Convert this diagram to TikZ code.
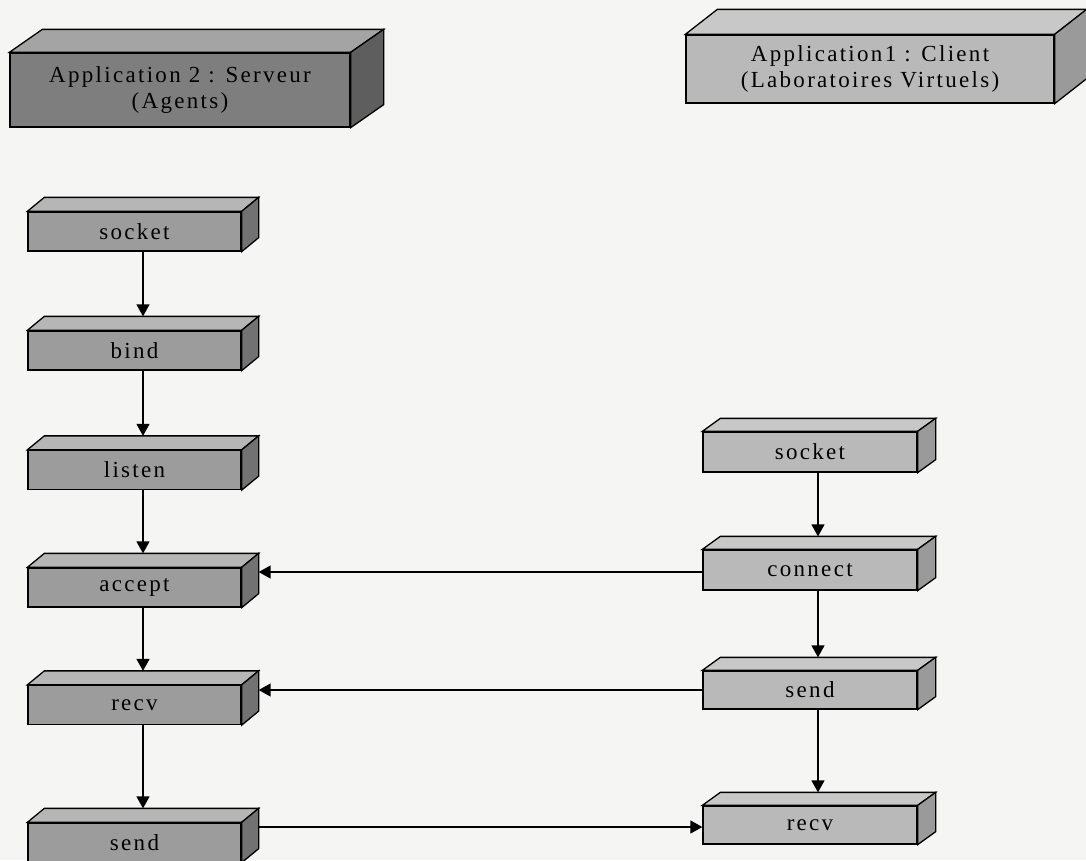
\documentclass[tikz,border=0pt]{standalone}
\usepackage{fontspec}
\newfontfamily\boxfont[LetterSpace=10]{Liberation Serif}
\usetikzlibrary{calc,arrows.meta}
\definecolor{paper}{HTML}{F5F5F3}
\definecolor{lfront}{HTML}{9C9C9C}
\definecolor{ltop}{HTML}{B6B6B6}
\definecolor{lside}{HTML}{727272}
\definecolor{tfront}{HTML}{7E7E7E}
\definecolor{ttop}{HTML}{A4A4A4}
\definecolor{tside}{HTML}{5E5E5E}
\definecolor{rfront}{HTML}{B9B9B9}
\definecolor{rtop}{HTML}{C8C8C8}
\definecolor{rside}{HTML}{9A9A9A}
\tikzset{
  edge/.style={draw=black, line width=1.3pt, line join=miter},
  lbox/.style={edge, fill=lfront},
  tbox/.style={edge, fill=tfront},
  rbox/.style={edge, fill=rfront},
  lboxtop/.style={edge, fill=ltop}, lboxside/.style={edge, fill=lside},
  tboxtop/.style={edge, fill=ttop}, tboxside/.style={edge, fill=tside},
  rboxtop/.style={edge, fill=rtop}, rboxside/.style={edge, fill=rside},
  label/.style={font=\boxfont\fontsize{23}{26}\selectfont, inner sep=0pt, align=center, text=black},
  arr/.style={line width=1.4pt, -{Triangle[width=13pt,length=12pt]}},
}
% #1 name, #2 cx, #3 cy, #4 width, #5 height, #6 dx, #7 dy, #8 style, #9 text
\newcommand{\tdbox}[9]{%
  \node[#8, label, minimum width=#4pt, minimum height=#5pt] (#1) at (#2,#3) {};
  \draw[#8top] (#1.north west) -- ++(#6,#7) -- ($(#1.north east)+(#6,#7)$) -- (#1.north east) -- cycle;
  \draw[#8side] (#1.north east) -- ++(#6,#7) -- ($(#1.south east)+(#6,#7)$) -- (#1.south east) -- cycle;
  \node[label] (#1-txt) at (#1.center) {#9};
  \coordinate (#1-t) at ($(#1.north)+(#6,#7)$);
  \coordinate (#1-s) at ($(#1.east)+(#6,0)$);
}
\begin{document}
\begin{tikzpicture}[x=1pt,y=-1pt]
\fill[paper] (0,0) rectangle (1086,860);
\useasboundingbox (0,0) rectangle (1086,860);
% titles
\tdbox{tl}{180}{90}{340}{74}{33}{-23}{tbox}{Application 2 : Serveur\\(Agents)}
\tdbox{tr}{870}{69}{368}{68}{32}{-25}{rbox}{Application1 : Client\\(Laboratoires Virtuels)}
% left column
\tdbox{lsocket}{134.5}{231.5}{213}{39}{17}{-14}{lbox}{socket}
\tdbox{lbind}{134.5}{350.5}{213}{39}{17}{-14}{lbox}{bind}
\tdbox{llisten}{134.5}{470}{213}{39}{17}{-14}{lbox}{listen}
\tdbox{laccept}{134.5}{587.5}{213}{39}{17}{-14}{lbox}{accept}
\tdbox{lrecv}{134.5}{705}{213}{39}{17}{-14}{lbox}{recv}
\tdbox{lsend}{134.5}{842.5}{213}{39}{17}{-14}{lbox}{send}
% right column
\tdbox{rsocket}{810}{452}{214}{40}{18}{-13}{rbox}{socket}
\tdbox{rconnect}{810}{570}{214}{40}{18}{-13}{rbox}{connect}
\tdbox{rsend}{810}{690}{214}{38}{18}{-13}{rbox}{send}
\tdbox{rrecv}{810}{825}{214}{38}{18}{-13}{rbox}{recv}
% vertical arrows
\foreach \a/\b in {lsocket/lbind,lbind/llisten,llisten/laccept,laccept/lrecv,lrecv/lsend}
  \draw[arr] ([xshift=8.5pt]\a.south) -- ([xshift=8.5pt]\a.south |- \b-t);
\foreach \a/\b in {rsocket/rconnect,rconnect/rsend,rsend/rrecv}
  \draw[arr] ([xshift=8pt]\a.south) -- ([xshift=8pt]\a.south |- \b-t);
% horizontal arrows
\draw[arr] ([yshift=-2pt]rconnect.west) -- ([yshift=-2pt]rconnect.west -| laccept-s);
\draw[arr] (rsend.west) -- (rsend.west -| lrecv-s);
\draw[arr] ([yshift=-2pt]rrecv.west -| lsend-s) -- ([yshift=-2pt]rrecv.west);
\end{tikzpicture}
\end{document}
